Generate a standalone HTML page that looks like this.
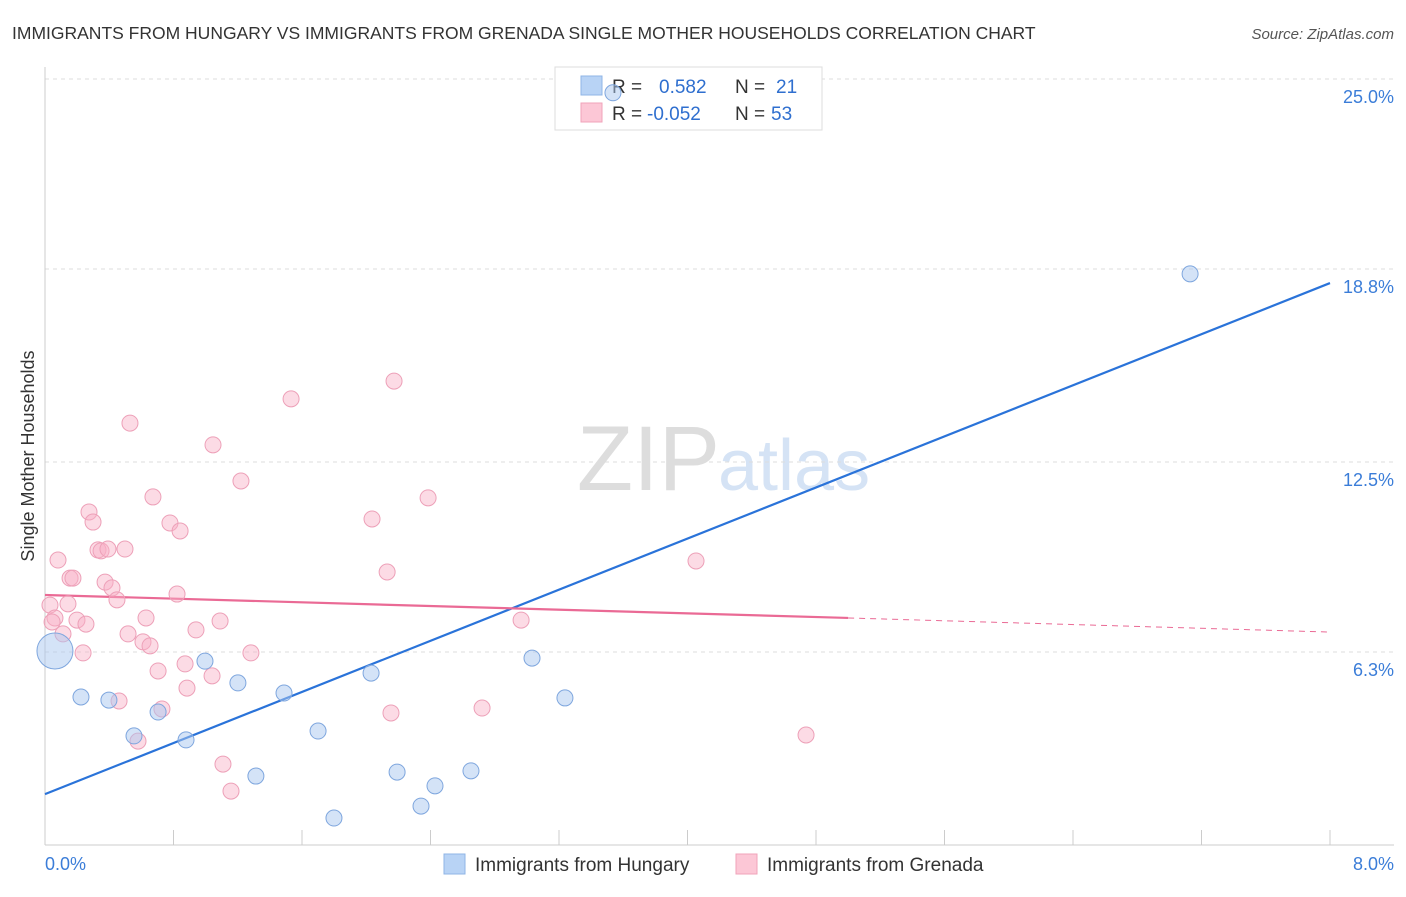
<!DOCTYPE html>
<html><head><meta charset="utf-8"><style>
body{margin:0;background:#fff;font-family:"Liberation Sans",sans-serif;}
svg text{font-family:"Liberation Sans",sans-serif;}
</style></head><body>
<svg id="chart" width="1406" height="892">
<text x="12" y="39" font-size="17.5" fill="#333">IMMIGRANTS FROM HUNGARY VS IMMIGRANTS FROM GRENADA SINGLE MOTHER HOUSEHOLDS CORRELATION CHART</text>
<text x="1394" y="39" font-size="15" fill="#555" text-anchor="end" font-style="italic">Source: ZipAtlas.com</text>
<text x="720" y="490" font-size="92" fill="#ddd" text-anchor="end" font-family="Liberation Serif">ZIP</text>
<text x="718" y="490" font-size="72" fill="#d5e3f5">atlas</text>
<text x="34" y="456" font-size="18" fill="#333" text-anchor="middle" transform="rotate(-90 34 456)">Single Mother Households</text>
<g id="grid"></g><g id="axes"></g><g id="lines"></g><g id="pts"></g>
<g>
<rect x="555" y="67" width="267" height="63" fill="#fff" stroke="#ddd"/>
<rect x="581" y="76" width="21" height="19" fill="#b8d3f5" stroke="#8fb4e6"/>
<rect x="581" y="103" width="21" height="19" fill="#fcc7d6" stroke="#f0a3ba"/>
<text x="612" y="93" font-size="19" fill="#333">R =</text>
<text x="659" y="93" font-size="19" fill="#2f6fcf">0.582</text>
<text x="735" y="93" font-size="19" fill="#333">N =</text>
<text x="776" y="93" font-size="19" fill="#2f6fcf">21</text>
<text x="612" y="120" font-size="19" fill="#333">R =</text>
<text x="647" y="120" font-size="19" fill="#2f6fcf">-0.052</text>
<text x="735" y="120" font-size="19" fill="#333">N =</text>
<text x="771" y="120" font-size="19" fill="#2f6fcf">53</text>
</g>
<g id="hid"></g>
<text x="45" y="870" font-size="18" fill="#3b7dd8">0.0%</text>
<text x="1394" y="870" font-size="18" fill="#3b7dd8" text-anchor="end">8.0%</text>
<g>
<rect x="444" y="854" width="21" height="20" fill="#b8d3f5" stroke="#8fb4e6"/>
<text x="475" y="871" font-size="19" fill="#333">Immigrants from Hungary</text>
<rect x="736" y="854" width="21" height="20" fill="#fcc7d6" stroke="#f0a3ba"/>
<text x="767" y="871" font-size="19" fill="#333">Immigrants from Grenada</text>
</g>
</svg>
<script>
const yTicks=[25.0,18.8,12.5,6.3];
const yTickLabels=["25.0%","18.8%","12.5%","6.3%"];
const hungaryX=[0.062,0.224,0.398,0.554,0.704,0.878,0.996,1.201,1.313,1.488,1.700,1.799,2.030,2.192,2.341,2.428,2.652,3.032,3.237,7.129,3.536];
const hungaryY=[6.33,4.83,4.73,3.56,4.34,3.43,6.00,5.29,2.25,4.96,3.72,0.88,5.61,2.38,1.27,1.93,2.42,6.10,4.80,18.64,24.55];
const grenadaX=[0.031,0.062,0.044,0.081,0.112,0.143,0.156,0.174,0.199,0.237,0.255,0.274,0.299,0.330,0.349,0.374,0.392,0.417,0.448,0.461,0.498,0.517,0.529,0.579,0.610,0.629,0.654,0.672,0.704,0.728,0.778,0.822,0.841,0.872,0.884,0.940,1.040,1.046,1.090,1.108,1.158,1.220,1.282,1.532,2.036,2.130,2.154,2.173,2.385,2.721,2.964,4.053,4.738];
const grenadaY=[7.83,7.41,7.28,9.30,6.89,7.87,8.71,8.71,7.34,6.27,7.21,10.87,10.54,9.63,9.60,8.58,9.66,8.39,8.00,4.70,9.66,6.89,13.77,3.39,6.63,7.41,6.50,11.36,5.68,4.44,10.51,8.19,10.25,5.91,5.12,7.02,5.52,13.06,7.31,2.64,1.76,11.88,6.27,14.56,10.64,8.91,4.31,15.14,11.33,4.47,7.34,9.27,3.59];
const blueTrend=[1.66,18.34];
const pinkTrend=[8.16,7.41,6.95];
const pinkSolidEnd=5.0;
const X=v=>45+v/8*1285, Y=v=>845-v*30.64;
const NS="http://www.w3.org/2000/svg";
function mk(t,a,p){const e=document.createElementNS(NS,t);for(const k in a)e.setAttribute(k,a[k]);p.appendChild(e);return e;}
const grid=document.getElementById('grid');
yTicks.forEach((t,i)=>{
 const l=mk('line',{x1:45,x2:1394,y1:Y(t),y2:Y(t),stroke:'#ddd','stroke-dasharray':'4,4'},grid);
 
 
 const tx=mk('text',{x:1394,y:Y(t)+24,'font-size':18,fill:'#3b7dd8','text-anchor':'end'},grid);
 tx.textContent=yTickLabels[i];
 
 
});
const ax=document.getElementById('axes');
mk('line',{x1:45,x2:45,y1:67,y2:845,stroke:'#ccc'},ax);
mk('line',{x1:45,x2:1394,y1:845,y2:845,stroke:'#ccc'},ax);
for(let i=0;i<=10;i++){const t=mk('line',{x1:X(i*0.8),x2:X(i*0.8),y1:830,y2:845,stroke:'#ccc'},ax);
 
 }
const ln=document.getElementById('lines');
const bl=mk('line',{x1:X(0),y1:Y(blueTrend[0]),x2:X(8),y2:Y(blueTrend[1]),stroke:'#2a73d9','stroke-width':2.2},ln);


const pl=mk('line',{x1:X(0),y1:Y(pinkTrend[0]),x2:X(pinkSolidEnd),y2:Y(pinkTrend[1]),stroke:'#ea6a95','stroke-width':2.2},ln);


const pd=mk('line',{x1:X(pinkSolidEnd),y1:Y(pinkTrend[1]),x2:X(8),y2:Y(pinkTrend[2]),stroke:'#ea6a95','stroke-width':1,'stroke-dasharray':'6,5'},ln);


const pts=document.getElementById('pts');
grenadaX.forEach((x,i)=>{const c=mk('circle',{cx:X(x),cy:Y(grenadaY[i]),r:8,fill:'rgba(248,175,198,0.45)',stroke:'#eda0b8','stroke-width':1},pts);
 
 });
hungaryX.forEach((x,i)=>{const c=mk('circle',{cx:X(x),cy:Y(hungaryY[i]),r:i==0?18:8,fill:'rgba(170,200,240,0.5)',stroke:'#7ea6de','stroke-width':1},i==20?document.getElementById('hid'):pts);
 
 });
</script>
</body></html>
